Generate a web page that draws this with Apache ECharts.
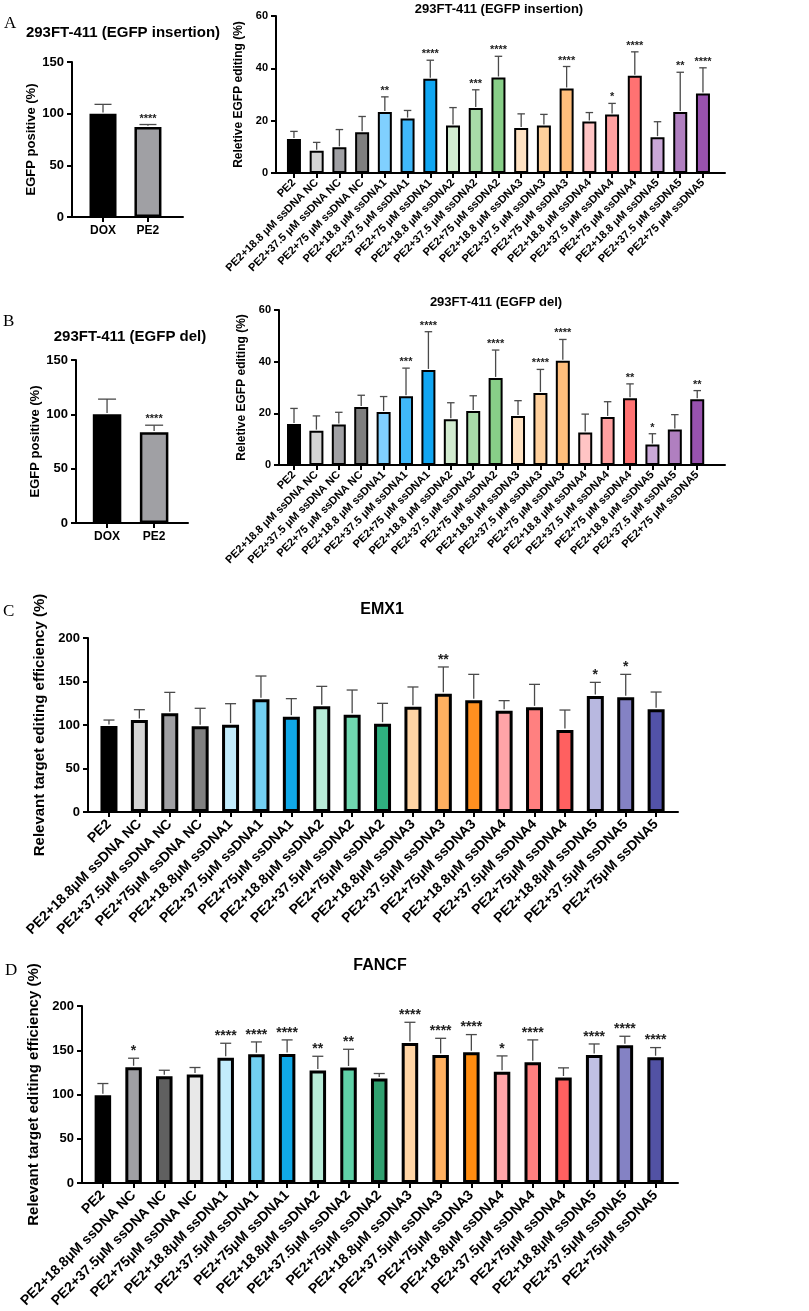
<!DOCTYPE html>
<html>
<head>
<meta charset="utf-8">
<script src="https://cdn.jsdelivr.net/npm/echarts@6/dist/echarts.min.js"></script>
<style>
  html, body { margin: 0; padding: 0; background: #fff; }
  #main { width: 809px; height: 1311px; }
</style>
</head>
<body>
<div id="main"></div>
<script>
// ---- data ----
const egfpGroups = ['DOX', 'PE2']
const insPositive = [100, 87]
const insPositiveSd = [9, 2.5]
const insPositiveSig = ['', '****']
const delPositive = [100, 83.5]
const delPositiveSd = [14, 6.5]
const delPositiveSig = ['', '****']

const egfpCats = [
  'PE2',
  'PE2+18.8 μM ssDNA NC', 'PE2+37.5 μM ssDNA NC', 'PE2+75 μM ssDNA NC',
  'PE2+18.8 μM ssDNA1', 'PE2+37.5 μM ssDNA1', 'PE2+75 μM ssDNA1',
  'PE2+18.8 μM ssDNA2', 'PE2+37.5 μM ssDNA2', 'PE2+75 μM ssDNA2',
  'PE2+18.8 μM ssDNA3', 'PE2+37.5 μM ssDNA3', 'PE2+75 μM ssDNA3',
  'PE2+18.8 μM ssDNA4', 'PE2+37.5 μM ssDNA4', 'PE2+75 μM ssDNA4',
  'PE2+18.8 μM ssDNA5', 'PE2+37.5 μM ssDNA5', 'PE2+75 μM ssDNA5'
]
const insEditing = [13.0, 8.5, 9.8, 15.6, 23.3, 20.8, 36.0, 18.2, 24.8, 36.5, 17.2, 18.2, 32.3, 19.7, 22.4, 37.2, 13.7, 23.3, 30.4]
const insEditingSd = [2.9, 3.2, 6.8, 6.0, 5.8, 3.1, 7.1, 6.8, 7.0, 8.1, 5.4, 4.2, 8.4, 3.4, 4.2, 9.1, 5.9, 15.2, 9.8]
const insEditingSig = ['', '', '', '', '**', '', '****', '', '***', '****', '', '', '****', '', '*', '****', '', '**', '****']

const delEditing = [15.9, 13.3, 15.7, 22.5, 20.5, 26.6, 36.8, 17.7, 20.9, 33.7, 19.0, 27.9, 40.4, 12.6, 18.6, 25.8, 7.9, 13.7, 25.5]
const delEditingSd = [6.0, 5.7, 4.7, 4.5, 6.0, 10.9, 14.8, 6.4, 5.9, 10.8, 5.9, 9.1, 8.2, 7.1, 5.9, 5.6, 4.2, 5.8, 3.3]
const delEditingSig = ['', '', '', '', '', '***', '****', '', '', '****', '', '****', '****', '', '', '**', '*', '', '**']

const targetCats = [
  'PE2',
  'PE2+18.8μM ssDNA NC', 'PE2+37.5μM ssDNA NC', 'PE2+75μM ssDNA NC',
  'PE2+18.8μM ssDNA1', 'PE2+37.5μM ssDNA1', 'PE2+75μM ssDNA1',
  'PE2+18.8μM ssDNA2', 'PE2+37.5μM ssDNA2', 'PE2+75μM ssDNA2',
  'PE2+18.8μM ssDNA3', 'PE2+37.5μM ssDNA3', 'PE2+75μM ssDNA3',
  'PE2+18.8μM ssDNA4', 'PE2+37.5μM ssDNA4', 'PE2+75μM ssDNA4',
  'PE2+18.8μM ssDNA5', 'PE2+37.5μM ssDNA5', 'PE2+75μM ssDNA5'
]
const emx1 = [98.9, 105.7, 113.4, 98.5, 100.4, 129.5, 109.6, 121.5, 111.9, 101.5, 121.1, 136.0, 128.4, 116.5, 120.3, 94.3, 133.3, 131.8, 118.0]
const emx1Sd = [6.8, 11.9, 24.1, 20.7, 24.1, 26.8, 20.7, 22.9, 28.3, 23.4, 22.6, 30.7, 29.8, 11.5, 26.4, 22.9, 15.7, 26.4, 19.9]
const emx1Sig = ['', '', '', '', '', '', '', '', '', '', '', '**', '', '', '', '', '*', '*', '']

const fancf = [99.2, 130.8, 120.7, 122.6, 141.4, 145.5, 145.9, 127.1, 130.5, 118.0, 158.3, 144.7, 147.7, 125.6, 136.5, 119.2, 144.7, 155.6, 142.1]
const fancfSd = [13.2, 10.2, 6.7, 7.9, 16.5, 13.9, 15.8, 16.1, 20.6, 5.7, 23.3, 18.8, 20.0, 18.0, 25.2, 10.9, 12.4, 10.2, 10.9]
const fancfSig = ['', '*', '', '', '****', '****', '****', '**', '**', '', '****', '****', '****', '*', '****', '', '****', '****', '****']

// ---- colours ----
const pairColors = ['#000000', '#a0a0a4']
const egfpColors = ['#000000', '#d4d4d4', '#a0a0a4', '#7f7f7f', '#80d0ff', '#40b8fa', '#10a6f2',
  '#d2ecd0', '#a8dba8', '#88cf88', '#ffe2c2', '#ffd09c', '#ffbe7c', '#ffc4c4', '#ffa0a0', '#ff7272',
  '#caa8d8', '#b07fc0', '#9852ae']
const emx1Colors = ['#000000', '#d4d4d4', '#a0a0a4', '#808080', '#c2ecfc', '#72d0f2', '#10a8e8',
  '#b8ecd8', '#70d8b0', '#2fb080', '#ffd4a4', '#ffb060', '#ff9020', '#ffa4a8', '#ff8080', '#ff6060',
  '#b8b8e0', '#8482c4', '#5252a8']
const fancfColors = ['#000000', '#a0a0a4', '#606060', '#e8e8e8', '#c2ecfc', '#72d0f2', '#10a8e8',
  '#b8ecd8', '#60d2a8', '#30a070', '#ffd4a4', '#ffb060', '#ff8c10', '#ffa4a8', '#ff8080', '#ff6060',
  '#c0c0e4', '#8482c4', '#5252a4']

const FONT = '"Liberation Sans", Arial, sans-serif'
const grids = []
const xAxes = []
const yAxes = []
const series = []

function addPanel(p) {
  const k = grids.length
  const idx = p.cats.map((c, i) => i)
  grids.push({ left: p.left, top: p.top, width: p.width, height: p.height })
  xAxes.push({
    type: 'value', gridIndex: k, min: p.xmin, max: p.xmax,
    axisLine: { show: true, onZero: false, lineStyle: { color: '#000', width: 2 } },
    axisTick: { show: true, customValues: idx, length: 5, lineStyle: { color: '#000', width: 2 } },
    axisLabel: {
      customValues: idx, formatter: v => p.cats[Math.round(v)], rotate: p.rotate,
      fontSize: p.xFont, fontWeight: 'bold', color: '#000', fontFamily: FONT, margin: p.xMargin
    },
    splitLine: { show: false }
  })
  yAxes.push({
    type: 'value', gridIndex: k, min: 0, max: p.ymax, interval: p.ystep,
    name: p.yName, nameLocation: 'middle', nameGap: p.nameGap,
    nameTextStyle: { fontSize: p.nameFont, fontWeight: 'bold', color: '#000', fontFamily: FONT },
    axisLine: { show: true, onZero: false, lineStyle: { color: '#000', width: 2 } },
    axisTick: { show: true, length: 5, lineStyle: { color: '#000', width: 2 } },
    axisLabel: { fontSize: p.yFont, fontWeight: 'bold', color: '#000', fontFamily: FONT, margin: 8 },
    splitLine: { show: false }
  })
  series.push({
    type: 'bar', xAxisIndex: k, yAxisIndex: k, barWidth: p.barWidth, silent: true,
    data: p.vals.map((v, i) => ({
      value: [i, v],
      itemStyle: { color: p.colors[i], borderColor: '#000', borderWidth: p.border }
    }))
  })
  series.push({
    type: 'custom', xAxisIndex: k, yAxisIndex: k, z: 5, silent: true,
    data: p.vals.map((v, i) => [i, v, p.sds[i]]),
    renderItem: (params, api) => {
      const i = params.dataIndex
      const base = api.coord([api.value(0), api.value(1)])
      const top = api.coord([api.value(0), api.value(1) + api.value(2)])
      const h = p.cap / 2
      const stroke = { stroke: '#4a4a4a', lineWidth: 1.3 }
      const children = [
        { type: 'line', shape: { x1: base[0], y1: base[1] - p.border / 2, x2: top[0], y2: top[1] }, style: stroke },
        { type: 'line', shape: { x1: top[0] - h, y1: top[1], x2: top[0] + h, y2: top[1] }, style: stroke }
      ]
      if (p.sigs[i]) {
        children.push({
          type: 'text', x: top[0], y: top[1] - p.starGap,
          style: { text: p.sigs[i], fontSize: p.starFont, fontWeight: 'bold', fill: '#222',
            align: 'center', verticalAlign: 'middle', fontFamily: FONT }
        })
      }
      return { type: 'group', children }
    }
  })
}

// A left
addPanel({ cats: egfpGroups, vals: insPositive, sds: insPositiveSd, sigs: insPositiveSig, colors: pairColors,
  left: 72, top: 62, width: 111, height: 155, xmin: -0.69, xmax: 1.78, ymax: 150, ystep: 50,
  yName: 'EGFP positive (%)', nameGap: 27, nameFont: 13, yFont: 13, xFont: 12, rotate: 0, xMargin: 8,
  barWidth: 27, border: 2.5, cap: 17, starFont: 11, starGap: 6 })
// A right
addPanel({ cats: egfpCats, vals: insEditing, sds: insEditingSd, sigs: insEditingSig, colors: egfpColors,
  left: 276, top: 16, width: 449, height: 157, xmin: -0.79, xmax: 18.97, ymax: 60, ystep: 20,
  yName: 'Reletive EGFP editing (%)', nameGap: 21, nameFont: 12, yFont: 11, xFont: 11, rotate: 45, xMargin: 8,
  barWidth: 14, border: 2, cap: 7.5, starFont: 11, starGap: 6 })
// B left
addPanel({ cats: egfpGroups, vals: delPositive, sds: delPositiveSd, sigs: delPositiveSig, colors: pairColors,
  left: 76, top: 360, width: 112, height: 163, xmin: -0.66, xmax: 1.72, ymax: 150, ystep: 50,
  yName: 'EGFP positive (%)', nameGap: 33, nameFont: 13, yFont: 13, xFont: 12, rotate: 0, xMargin: 8,
  barWidth: 28.5, border: 2.5, cap: 18, starFont: 11, starGap: 6 })
// B right
addPanel({ cats: egfpCats, vals: delEditing, sds: delEditingSd, sigs: delEditingSig, colors: egfpColors,
  left: 279, top: 310, width: 446, height: 155, xmin: -0.67, xmax: 19.24, ymax: 60, ystep: 20,
  yName: 'Reletive EGFP editing (%)', nameGap: 22, nameFont: 12, yFont: 11, xFont: 11, rotate: 45, xMargin: 8,
  barWidth: 14, border: 2, cap: 7.5, starFont: 11, starGap: 6 })
// C
addPanel({ cats: targetCats, vals: emx1, sds: emx1Sd, sigs: emx1Sig, colors: emx1Colors,
  left: 88, top: 638, width: 590, height: 174, xmin: -0.69, xmax: 18.72, ymax: 200, ystep: 50,
  yName: 'Relevant target editing efficiency (%)', nameGap: 35, nameFont: 15, yFont: 13, xFont: 14, rotate: 45, xMargin: 10,
  barWidth: 17, border: 3, cap: 11, starFont: 14, starGap: 7 })
// D
addPanel({ cats: targetCats, vals: fancf, sds: fancfSd, sigs: fancfSig, colors: fancfColors,
  left: 82, top: 1006, width: 596, height: 177, xmin: -0.68, xmax: 18.73, ymax: 200, ystep: 50,
  yName: 'Relevant target editing efficiency (%)', nameGap: 35, nameFont: 15, yFont: 13, xFont: 14, rotate: 45, xMargin: 10,
  barWidth: 16.5, border: 3, cap: 11, starFont: 14, starGap: 7 })

function label(text, x, y, size, serif) {
  return {
    type: 'text', x, y, silent: true,
    style: { text, fontSize: size, fontWeight: serif ? 'normal' : 'bold', fill: '#000',
      fontFamily: serif ? '"Liberation Serif", "Times New Roman", serif' : FONT,
      align: serif ? 'left' : 'center', verticalAlign: 'middle' }
  }
}

const chart = echarts.init(document.getElementById('main'))
chart.setOption({
  backgroundColor: '#fff',
  animation: false,
  grid: grids,
  xAxis: xAxes,
  yAxis: yAxes,
  series,
  graphic: [
    label('A', 4, 24, 17, true),
    label('B', 3, 322, 17, true),
    label('C', 3, 612, 17, true),
    label('D', 5, 971, 17, true),
    label('293FT-411 (EGFP insertion)', 123, 33, 15),
    label('293FT-411 (EGFP insertion)', 499, 9, 13),
    label('293FT-411 (EGFP del)', 130, 337, 15),
    label('293FT-411 (EGFP del)', 496, 302, 13),
    label('EMX1', 382, 610, 16),
    label('FANCF', 380, 966, 16)
  ]
})
</script>
</body>
</html>
